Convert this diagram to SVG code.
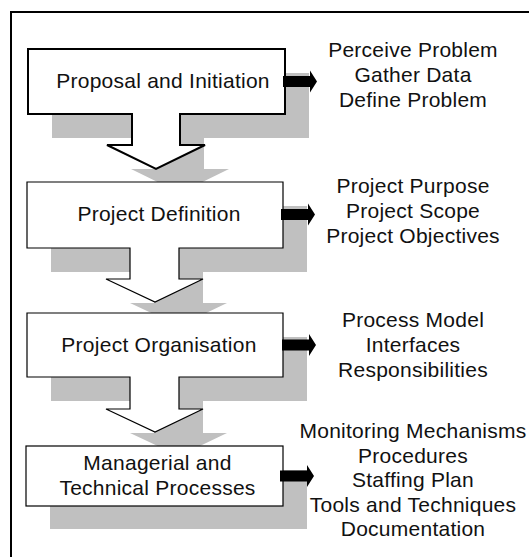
<svg xmlns="http://www.w3.org/2000/svg" width="529" height="557" viewBox="0 0 529 557">
  <style>
    .shadow { fill: #c0c0c0; stroke: none; }
    .stage { fill: #ffffff; stroke: #000000; stroke-width: 1.2; stroke-linejoin: miter; }
    .stage.lead { stroke-width: 2; }
    .label { font-family: "Liberation Sans", Arial, sans-serif; font-size: 21px; letter-spacing: 0.25px; fill: #111111; text-anchor: middle; }
    .out { fill: #000000; }
  </style>
  <defs>
    <path id="outArrow" d="M0,-5.5 H27 V-11 L34,0 L27,11 V5.5 H0 Z"/>
  </defs>

  <rect x="11" y="12" width="540" height="570" fill="#ffffff" stroke="#000000" stroke-width="2"/>

  <g id="stage-proposal">
    <path class="shadow" transform="translate(24,24)" d="M28,49 H285 V114 H180 V145 H205 L156,169 L107,145 H132 V114 H28 Z"/>
    <path class="stage lead" d="M28,49 H285 V114 H180 V145 H205 L156,169 L107,145 H132 V114 H28 Z"/>
    <text class="label" x="163" y="88">Proposal and Initiation</text>
  </g>

  <g id="stage-definition">
    <path class="shadow" transform="translate(24,24)" d="M27,182 H283 V248 H179 V279 H203 L155,302 L106,279 H130 V248 H27 Z"/>
    <path class="stage" d="M27,182 H283 V248 H179 V279 H203 L155,302 L106,279 H130 V248 H27 Z"/>
    <text class="label" x="159" y="221">Project Definition</text>
  </g>

  <g id="stage-organisation">
    <path class="shadow" transform="translate(24,24)" d="M27,313 H283 V377 H179 V409 H203 L155,432 L106,409 H130 V377 H27 Z"/>
    <path class="stage" d="M27,313 H283 V377 H179 V409 H203 L155,432 L106,409 H130 V377 H27 Z"/>
    <text class="label" x="159" y="352">Project Organisation</text>
  </g>

  <g id="stage-processes">
    <rect class="shadow" x="50" y="470" width="257" height="59"/>
    <rect class="stage" x="26" y="446" width="257" height="60"/>
    <text class="label" x="157.5" y="469.5">Managerial and</text>
    <text class="label" x="157.5" y="494.5">Technical Processes</text>
  </g>

  <g id="connectors">
    <use href="#outArrow" class="out" x="283" y="81.5"/>
    <use href="#outArrow" class="out" x="281" y="214.5"/>
    <use href="#outArrow" class="out" x="282" y="345"/>
    <use href="#outArrow" class="out" x="280" y="476"/>
  </g>

  <g id="outputs-proposal">
    <text class="label" x="413" y="56.5">Perceive Problem</text>
    <text class="label" x="413" y="81.5">Gather Data</text>
    <text class="label" x="413" y="106.5">Define Problem</text>
  </g>

  <g id="outputs-definition">
    <text class="label" x="413" y="193">Project Purpose</text>
    <text class="label" x="413" y="218">Project Scope</text>
    <text class="label" x="413" y="243">Project Objectives</text>
  </g>

  <g id="outputs-organisation">
    <text class="label" x="413" y="327">Process Model</text>
    <text class="label" x="413" y="352">Interfaces</text>
    <text class="label" x="413" y="377">Responsibilities</text>
  </g>

  <g id="outputs-processes">
    <text class="label" x="413" y="438">Monitoring Mechanisms</text>
    <text class="label" x="413" y="462.5">Procedures</text>
    <text class="label" x="413" y="487">Staffing Plan</text>
    <text class="label" x="413" y="511.5">Tools and Techniques</text>
    <text class="label" x="413" y="536">Documentation</text>
  </g>
</svg>
